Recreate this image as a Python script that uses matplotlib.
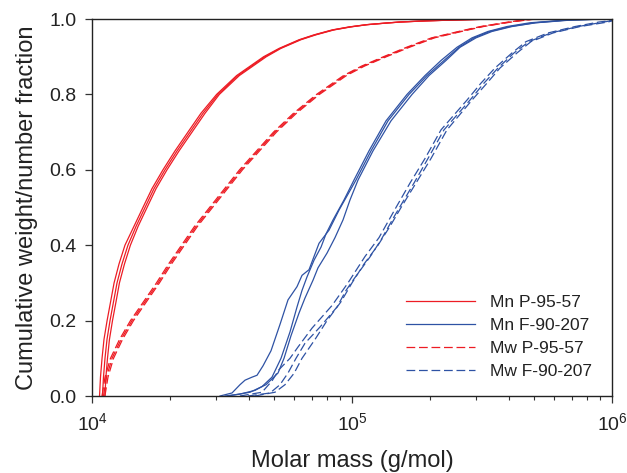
import matplotlib
matplotlib.use("Agg")
import matplotlib.pyplot as plt
from matplotlib.ticker import LogLocator, LogFormatterSciNotation, FixedLocator, NullFormatter

plt.rcParams['font.family'] = ['Liberation Sans', 'DejaVu Sans']
plt.rcParams['mathtext.fontset'] = 'custom'
plt.rcParams['mathtext.rm'] = 'Liberation Sans'
plt.rcParams['mathtext.it'] = 'Liberation Sans:italic'
plt.rcParams['mathtext.bf'] = 'Liberation Sans:bold'

# ---------------- data (molar mass in g/mol vs cumulative fraction) ----------------
# Mn P-95-57 (red solid, three replicates)
frac_mn_p = [0, 0.05, 0.1, 0.15, 0.2, 0.25, 0.3, 0.35, 0.4, 0.45, 0.5, 0.55, 0.6, 0.65,
             0.7, 0.75, 0.8, 0.85, 0.9, 0.922, 0.945, 0.958, 0.971, 0.979, 0.985, 0.989,
             0.992, 0.995, 0.997, 0.999, 1.0]
mn_p_1 = [10690, 10780, 10930, 11120, 11430, 11790, 12160, 12700, 13390, 14500, 15700,
          17010, 18750, 20850, 23390, 26250, 30150, 36000, 45730, 52440, 62600, 71480,
          83850, 97450, 113700, 133500, 152400, 190100, 237200, 309500, 403700]
mn_p_2 = [10970, 11070, 11220, 11420, 11730, 12100, 12480, 13040, 13750, 14770, 15990,
          17320, 19090, 21230, 23820, 26730, 30520, 36440, 46280, 52860, 63100, 72060,
          84530, 98240, 114200, 134000, 153000, 190900, 238200, 310800, 405300]
mn_p_3 = [11210, 11310, 11470, 11670, 11990, 12370, 12750, 13330, 14050, 15040, 16280,
          17630, 19430, 21610, 24250, 27210, 30890, 36880, 46840, 53280, 63600, 72640,
          85210, 99030, 114700, 134500, 153600, 191700, 239100, 312000, 406900]

# Mw P-95-57 (red dashed, three replicates)
frac_mw_p = [0, 0.05, 0.1, 0.15, 0.2, 0.25, 0.3, 0.35, 0.4, 0.45, 0.5, 0.55, 0.6, 0.65,
             0.7, 0.75, 0.8, 0.85, 0.875, 0.9, 0.925, 0.95, 0.97, 0.98, 0.99, 0.995, 1.0]
mw_p_1 = [10930, 11220, 11780, 12760, 14060, 15780, 17700, 19690, 22100, 24790, 28330,
          32350, 36940, 42940, 49910, 59580, 73050, 92780, 108800, 132230, 162100,
          202300, 268600, 312200, 382700, 429500, 499000]
mw_p_2 = [11070, 11370, 11940, 12930, 14250, 15990, 17940, 19950, 22390, 25120, 28700,
          32770, 37420, 43500, 50560, 60360, 74000, 93990, 110200, 133960, 164200,
          204900, 272100, 316200, 387700, 435000, 505500]
mw_p_3 = [11210, 11520, 12100, 13100, 14440, 16200, 18170, 20210, 22680, 25450, 29070,
          33200, 37910, 44070, 51220, 61150, 74960, 95210, 111600, 135700, 166300,
          207600, 275600, 320300, 392700, 440600, 512000]

# Mn F-90-207 (blue solid, three replicates)
frac_mn_f_1 = [0, 0.008, 0.03, 0.042, 0.05, 0.055, 0.08, 0.12, 0.19, 0.255, 0.29, 0.32,
               0.335, 0.405, 0.44, 0.493, 0.573, 0.65, 0.73, 0.8, 0.85, 0.89, 0.925,
               0.95, 0.967, 0.98, 0.99, 0.997, 1.0]
mn_f_1 = [31070, 34550, 37090, 38780, 41260, 43120, 45470, 48810, 52860, 56740, 61440,
          64230, 68340, 74670, 81590, 89120, 103600, 118300, 137600, 165700, 194300,
          225900, 258000, 294700, 339500, 405300, 505900, 671400, 939800]
frac_mn_f_2 = [0, 0.005, 0.015, 0.025, 0.05, 0.1, 0.17, 0.236, 0.28, 0.316, 0.36, 0.395,
               0.43, 0.467, 0.52, 0.573, 0.65, 0.73, 0.8, 0.85, 0.89, 0.925, 0.95,
               0.967, 0.98, 0.99, 0.997, 1.0]
mn_f_2 = [32480, 37090, 42370, 45070, 49240, 53330, 57750, 61440, 64230, 67140, 71420,
          76010, 79450, 84530, 93170, 101800, 116200, 135200, 162800, 190900, 220000,
          253400, 289500, 333600, 394700, 483800, 659700, 939800]
frac_mn_f_3 = [0, 0.01, 0.03, 0.061, 0.1, 0.16, 0.22, 0.26, 0.307, 0.34, 0.379, 0.42,
               0.467, 0.52, 0.573, 0.65, 0.73, 0.8, 0.85, 0.89, 0.925, 0.95, 0.967,
               0.98, 0.99, 0.997, 1.0]
mn_f_3 = [33350, 40530, 46700, 51930, 54770, 58270, 62550, 65960, 70790, 74000, 80150,
          86010, 92340, 98240, 105500, 120400, 141300, 170200, 197800, 229900, 260300,
          299900, 345500, 412500, 510000, 689500, 956700]

# Mw F-90-207 (blue dashed, three replicates)
frac_mw_f_1 = [0, 0.01, 0.04, 0.07, 0.1, 0.13, 0.18, 0.24, 0.3, 0.37, 0.42, 0.5, 0.565,
               0.63, 0.706, 0.785, 0.83, 0.87, 0.91, 0.94, 0.963, 0.98, 0.992, 0.996]
mw_f_1 = [37090, 45070, 49240, 52400, 57750, 62000, 70180, 83770, 96520, 112200, 127000,
          147650, 167200, 190900, 220000, 276900, 313500, 354800, 412500, 467000,
          567400, 720600, 891300, 1000000]
frac_mw_f_2 = [0, 0.008, 0.03, 0.061, 0.1, 0.14, 0.183, 0.236, 0.28, 0.307, 0.369, 0.414,
               0.48, 0.565, 0.63, 0.706, 0.785, 0.83, 0.87, 0.91, 0.94, 0.963, 0.98,
               0.992, 0.996]
mw_f_2 = [39810, 48380, 52860, 56740, 60900, 65960, 75330, 87550, 94820, 100900, 117300,
          129300, 146400, 173200, 196000, 225900, 284400, 321900, 364400, 419900,
          479500, 582700, 740000, 931700, 1000000]
frac_mw_f_3 = [0, 0.01, 0.03, 0.06, 0.1, 0.15, 0.2, 0.25, 0.3, 0.35, 0.4, 0.45, 0.5,
               0.565, 0.63, 0.706, 0.785, 0.83, 0.87, 0.91, 0.94, 0.963, 0.98, 0.992,
               0.995]
mw_f_3 = [42370, 50560, 55250, 59830, 64230, 72060, 80150, 90730, 100000, 111200, 125900,
          140000, 154400, 176300, 201300, 231900, 289500, 330600, 370900, 431200,
          488100, 593100, 753300, 965200, 1000000]

legend_labels = ["Mn P-95-57", "Mn F-90-207", "Mw P-95-57", "Mw F-90-207"]
y_ticks = [0.0, 0.2, 0.4, 0.6, 0.8, 1.0]
x_label = "Molar mass (g/mol)"
y_label = "Cumulative weight/number fraction"

# ---------------- style ----------------
RED = "#ED1C24"
BLUE = "#2E52A4"
LW = 0.9
DASH = (7, 3)

fig = plt.figure(figsize=(6.27, 4.73), dpi=100)
ax = fig.add_axes([92 / 627, 77 / 473, 520 / 627, 377 / 473])

handles = {}
for m in [mn_p_1, mn_p_2, mn_p_3]:
    h, = ax.plot(m, frac_mn_p, color=RED, lw=LW)
    handles.setdefault(0, h)
for fr, m in [(frac_mn_f_1, mn_f_1), (frac_mn_f_2, mn_f_2), (frac_mn_f_3, mn_f_3)]:
    h, = ax.plot(m, fr, color=BLUE, lw=LW)
    handles.setdefault(1, h)
for m in [mw_p_1, mw_p_2, mw_p_3]:
    h, = ax.plot(m, frac_mw_p, color=RED, lw=LW, dashes=DASH)
    handles.setdefault(2, h)
for fr, m in [(frac_mw_f_1, mw_f_1), (frac_mw_f_2, mw_f_2), (frac_mw_f_3, mw_f_3)]:
    h, = ax.plot(m, fr, color=BLUE, lw=LW, dashes=DASH)
    handles.setdefault(3, h)

ax.set_xscale('log')
ax.set_xlim(1e4, 1e6)
ax.set_ylim(0, 1.0)
ax.xaxis.set_major_locator(LogLocator(base=10, numticks=10))
ax.xaxis.set_major_formatter(LogFormatterSciNotation())
ax.xaxis.set_minor_locator(LogLocator(base=10, subs=range(2, 10), numticks=20))
ax.xaxis.set_minor_formatter(NullFormatter())
ax.yaxis.set_major_locator(FixedLocator(y_ticks))
ax.set_yticklabels([f"{v:.1f}" for v in y_ticks])

ax.tick_params(axis='both', which='major', direction='out', length=5, width=0.9,
               labelsize=14, color='#333333', labelcolor='#222222')
ax.tick_params(axis='x', which='minor', direction='out', length=3, width=0.8,
               color='#333333')
ax.tick_params(axis='x', which='major', pad=7)
ax.tick_params(axis='y', which='major', pad=6)
for s in ax.spines.values():
    s.set_linewidth(1.0)
    s.set_color('#222222')

ax.set_xlabel(x_label, fontsize=17, color='#222222', labelpad=11)
ax.set_ylabel(y_label, fontsize=17, color='#222222', labelpad=8)

leg = ax.legend([handles[k] for k in range(4)], legend_labels, loc='upper left',
                bbox_to_anchor=(0.603, 0.267), frameon=False, fontsize=12.5,
                handlelength=4.0, handletextpad=0.85, labelspacing=0.45,
                borderpad=0, borderaxespad=0)
for t in leg.get_texts():
    t.set_color('#222222')

fig.savefig("out.png", dpi=100)
